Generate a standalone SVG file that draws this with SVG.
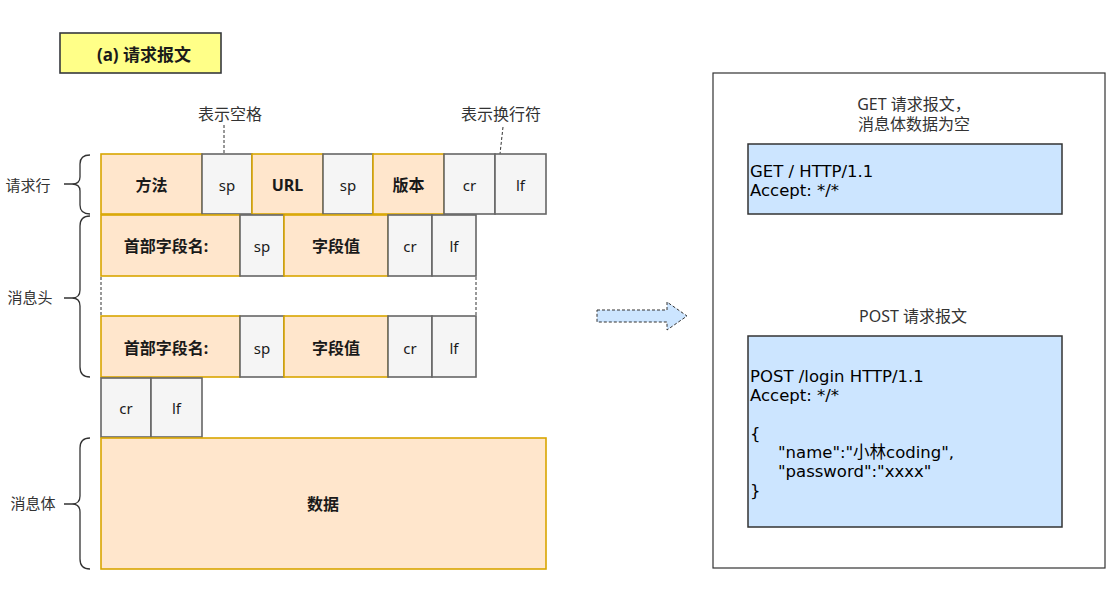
<svg xmlns="http://www.w3.org/2000/svg" width="1119" height="595" viewBox="0 0 1119 595">
<style>
text{font-family:"Noto Sans","Noto Sans CJK SC",sans-serif;fill:#1a1a1a}
.lbl{font-size:15px;text-anchor:middle;dominant-baseline:central}
.b{font-weight:bold;font-size:16px}
.t{font-weight:bold;font-size:17px}
.or{fill:#ffe6cc;stroke:#d9a600;stroke-width:1.6}
.gr{fill:#f5f5f5;stroke:#666;stroke-width:1.6}
.brace{fill:none;stroke:#333;stroke-width:1.3}
.dash{fill:none;stroke:#333;stroke-width:1;stroke-dasharray:3 2}
.blue{fill:#cce5ff;stroke:#333;stroke-width:1.5}
.code{font-family:"DejaVu Sans","Noto Sans CJK SC",sans-serif;font-size:16.5px;fill:#000}
.side{font-size:15px;fill:#333}
.side2{font-size:16px;fill:#333;text-anchor:middle}
</style>
<rect width="1119" height="595" fill="#fff"/>
<g id="title">
<rect x="60" y="33" width="161" height="40" fill="#ffff88" stroke="#36393d" stroke-width="1.6"/>
<text class="lbl t" x="144" y="54">(a) 请求报文</text>
</g>
<g id="labels">
<text class="side2" x="230" y="120">表示空格</text>
<text class="side2" x="501" y="120">表示换行符</text>
<text class="side" x="28" y="191" text-anchor="middle">请求行</text>
<text class="side" x="30" y="303" text-anchor="middle">消息头</text>
<text class="side" x="33" y="509" text-anchor="middle">消息体</text>
</g>
<g id="connectors">
<path class="dash" d="M224,125 L224,154"/>
<path class="dash" d="M503,127 L500,154"/>
<path class="dash" d="M101,277 L101,316"/>
<path class="dash" d="M476,277 L476,316"/>
<path class="brace" d="M90,155 Q80,155 80,164 L80,177 Q80,184 72,184 L64,184 M72,184 Q80,184 80,191 L80,205 Q80,214 90,214"/>
<path class="brace" d="M90,216 Q80,216 80,226 L80,290 Q80,298 72,298 L64,298 M72,298 Q80,298 80,306 L80,367 Q80,377 90,377"/>
<path class="brace" d="M90,438 Q80,438 80,448 L80,496 Q80,504 72,504 L64,504 M72,504 Q80,504 80,512 L80,559 Q80,569 90,569"/>
</g>
<g id="request-line">
<rect class="or" x="101" y="154" width="101" height="60"/><text class="lbl b" x="151.5" y="185">方法</text>
<rect class="gr" x="202" y="154" width="50" height="60"/><text class="lbl" x="227" y="185">sp</text>
<rect class="or" x="252" y="154" width="71" height="60"/><text class="lbl b" x="287.5" y="185">URL</text>
<rect class="gr" x="323" y="154" width="50" height="60"/><text class="lbl" x="348" y="185">sp</text>
<rect class="or" x="373" y="154" width="71" height="60"/><text class="lbl b" x="408.5" y="185">版本</text>
<rect class="gr" x="444" y="154" width="51" height="60"/><text class="lbl" x="469.5" y="185">cr</text>
<rect class="gr" x="495" y="154" width="51" height="60"/><text class="lbl" x="520.5" y="185">lf</text>
</g>
<g id="header-1">
<rect class="or" x="101" y="215" width="139" height="61"/><text class="lbl b" x="166" y="246">首部字段名:</text>
<rect class="gr" x="240" y="215" width="44" height="61"/><text class="lbl" x="262" y="246">sp</text>
<rect class="or" x="284" y="215" width="104" height="61"/><text class="lbl b" x="336" y="246">字段值</text>
<rect class="gr" x="388" y="215" width="44" height="61"/><text class="lbl" x="410" y="246">cr</text>
<rect class="gr" x="432" y="215" width="44" height="61"/><text class="lbl" x="454" y="246">lf</text>
</g>
<g id="header-n">
<rect class="or" x="101" y="316" width="139" height="61"/><text class="lbl b" x="166" y="348">首部字段名:</text>
<rect class="gr" x="240" y="316" width="44" height="61"/><text class="lbl" x="262" y="348">sp</text>
<rect class="or" x="284" y="316" width="104" height="61"/><text class="lbl b" x="336" y="348">字段值</text>
<rect class="gr" x="388" y="316" width="44" height="61"/><text class="lbl" x="410" y="348">cr</text>
<rect class="gr" x="432" y="316" width="44" height="61"/><text class="lbl" x="454" y="348">lf</text>
</g>
<g id="blank-line">
<rect class="gr" x="101" y="378" width="50" height="59"/><text class="lbl" x="126" y="408">cr</text>
<rect class="gr" x="151" y="378" width="51" height="59"/><text class="lbl" x="176.5" y="408">lf</text>
</g>
<g id="body">
<rect class="or" x="101" y="438" width="445" height="131"/><text class="lbl b" x="323" y="504">数据</text>
</g>
<g id="arrow">
<path d="M597,310 L667,310 L667,302 L687,316 L667,330 L667,322 L597,322 Z" fill="#cce5ff" stroke="#333" stroke-width="1" stroke-dasharray="3 2"/>
</g>
<g id="examples">
<rect x="713" y="73" width="392" height="495" fill="#fff" stroke="#333" stroke-width="1.2"/>
<text class="side2" x="914" y="110">GET 请求报文，</text>
<text class="side2" x="914" y="130">消息体数据为空</text>
<rect class="blue" x="748" y="144" width="314" height="70"/>
<text class="code" x="750" y="177">GET / HTTP/1.1</text>
<text class="code" x="750" y="196">Accept: */*</text>
<text class="side2" x="913" y="322">POST 请求报文</text>
<rect class="blue" x="748" y="336" width="314" height="191"/>
<text class="code" x="750" y="382">POST /login HTTP/1.1</text>
<text class="code" x="750" y="401">Accept: */*</text>
<text class="code" x="750" y="439">{</text>
<text class="code" x="778" y="458">"name":"小林coding",</text>
<text class="code" x="778" y="477">"password":"xxxx"</text>
<text class="code" x="750" y="496">}</text>
</g>
</svg>
